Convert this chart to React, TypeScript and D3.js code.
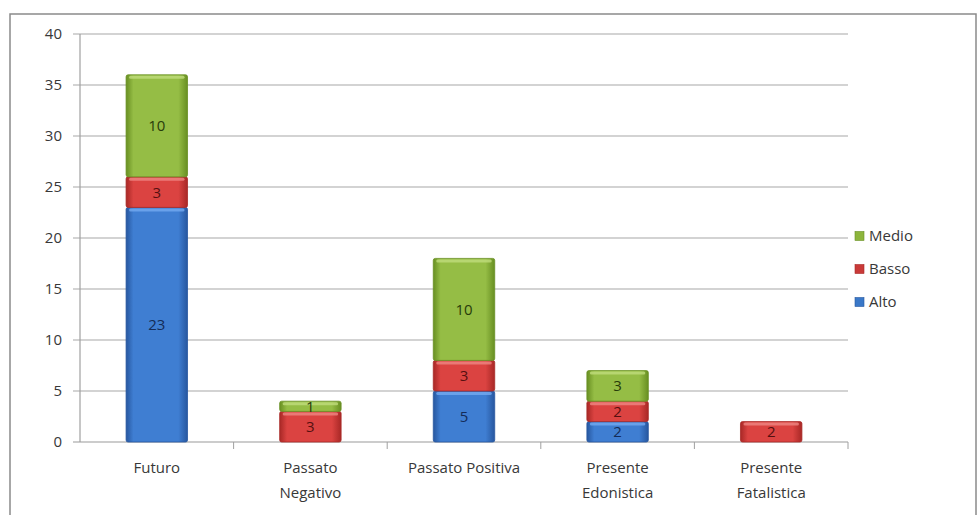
import React from "react";
import * as d3 from "d3";

const categories = ["Futuro", "Passato Negativo", "Passato Positiva", "Presente Edonistica", "Presente Fatalistica"];
const categoryLines = [["Futuro"], ["Passato", "Negativo"], ["Passato Positiva"], ["Presente", "Edonistica"], ["Presente", "Fatalistica"]];
const seriesNames = ["Alto", "Basso", "Medio"];
const alto = [23, 0, 5, 2, 0];
const basso = [3, 3, 3, 2, 2];
const medio = [10, 1, 10, 3, 0];
const yTicks = [0, 5, 10, 15, 20, 25, 30, 35, 40];

const W = 979;
const H = 515;
const FONT = "'Open Sans', 'Noto Sans', sans-serif";

const palette: Record<string, { edge: string; mid: string; top: string; text: string; legend: string }> = {
  Alto: { edge: "#27579f", mid: "#3f7ed2", top: "#74aaf0", text: "#142c58", legend: "#3a78c8" },
  Basso: { edge: "#a82826", mid: "#db4341", top: "#ee8783", text: "#561010", legend: "#c93a38" },
  Medio: { edge: "#688f22", mid: "#95bd45", top: "#bfdc7c", text: "#283c0a", legend: "#8db53c" },
};

export default function App() {
  const x = d3.scaleBand<string>().domain(categories).range([80, 848]).paddingInner(0.6).paddingOuter(0.3);
  const xb = d3.scaleBand<string>().domain(categories).range([80, 848]);
  const y = d3.scaleLinear().domain([0, 40]).range([442, 34]);

  const rows = categories.map((c, i) => ({ cat: c, Alto: alto[i], Basso: basso[i], Medio: medio[i] }));
  const stacked = d3.stack<any>().keys(seriesNames)(rows);

  return (
    <svg width={W} height={H} style={{ position: "absolute", left: 0, top: 0, background: "#fff" }}>
      <defs>
        {seriesNames.map((s) => (
          <linearGradient key={s} id={`g-${s}`} x1="0" x2="1" y1="0" y2="0">
            <stop offset="0" stopColor={palette[s].edge} />
            <stop offset="0.12" stopColor={palette[s].mid} />
            <stop offset="0.85" stopColor={palette[s].mid} />
            <stop offset="1" stopColor={palette[s].edge} />
          </linearGradient>
        ))}
      </defs>
      {/* chart frame */}
      <rect x={10} y={14} width={966} height={520} fill="none" stroke="#8a8a8a" strokeWidth={1.5} />

      {/* gridlines and y axis */}
      {yTicks.map((t) => (
        <g key={t}>
          <line x1={73} x2={848} y1={y(t)} y2={y(t)} stroke={t === 0 ? "#9a9a9a" : "#a8a8a8"} strokeWidth={1.2} />
          <text x={62} y={y(t)} dy="0.35em" textAnchor="end" fontFamily={FONT} fontSize={15} fill="#383838">
            {t}
          </text>
        </g>
      ))}
      <line x1={80} x2={80} y1={34} y2={442} stroke="#a0a0a0" strokeWidth={1.2} />
      {categories.map((c) => (
        <line key={c} x1={(xb(c) as number) + xb.bandwidth()} x2={(xb(c) as number) + xb.bandwidth()} y1={442} y2={449} stroke="#a0a0a0" strokeWidth={1} />
      ))}

      {/* stacked bars */}
      {stacked.map((layer) => {
        const key = layer.key;
        return (
          <g key={key}>
            {layer.map((d, i) => {
              const v = d[1] - d[0];
              if (v <= 0) return null;
              const bx = x(categories[i]) as number;
              const bw = x.bandwidth();
              const top = y(d[1]);
              const h = y(d[0]) - top;
              return (
                <g key={i}>
                  <rect x={bx} y={top} width={bw} height={h} rx={2} fill={`url(#g-${key})`} stroke={palette[key].edge} strokeWidth={0.8} />
                  <rect x={bx + 3} y={top + 1} width={bw - 6} height={Math.min(3, h / 3)} rx={1.5} fill={palette[key].top} opacity={0.8} />
                  <text x={bx + bw / 2} y={(top + y(d[0])) / 2} dy="0.36em" textAnchor="middle" fontFamily={FONT} fontSize={15} fill={palette[key].text}>
                    {v}
                  </text>
                </g>
              );
            })}
          </g>
        );
      })}

      {/* category labels */}
      {categories.map((c, i) => (
        <text key={c} x={(xb(c) as number) + xb.bandwidth() / 2} y={473} textAnchor="middle" fontFamily={FONT} fontSize={15} fill="#383838">
          {categoryLines[i].map((line, j) => (
            <tspan key={j} x={(xb(c) as number) + xb.bandwidth() / 2} dy={j === 0 ? 0 : 25}>
              {line}
            </tspan>
          ))}
        </text>
      ))}

      {/* legend */}
      {["Medio", "Basso", "Alto"].map((s, i) => (
        <g key={s} transform={`translate(855, ${236 + i * 33})`}>
          <rect x={0} y={-4.5} width={9} height={9} fill={palette[s].legend} stroke={palette[s].edge} strokeWidth={0.6} />
          <text x={14} y={0} dy="0.35em" fontFamily={FONT} fontSize={15} fill="#383838">
            {s}
          </text>
        </g>
      ))}
    </svg>
  );
}
